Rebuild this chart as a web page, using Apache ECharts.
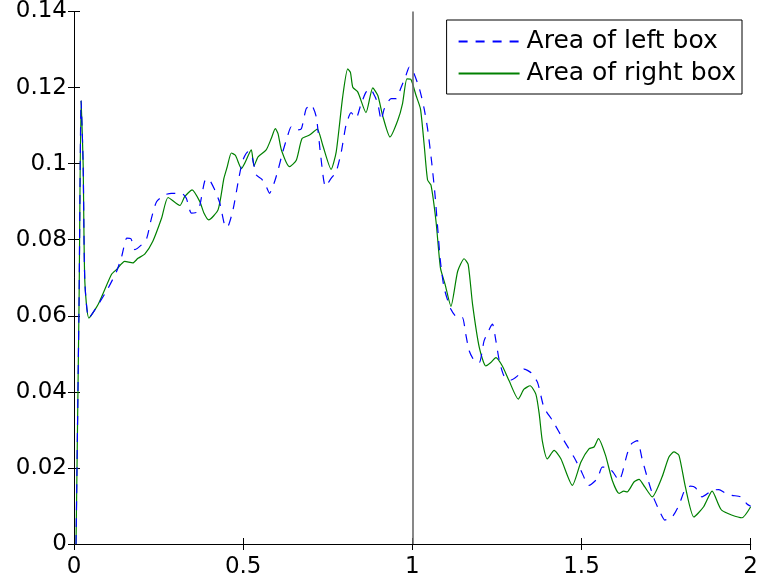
<!DOCTYPE html>
<html>
<head>
<meta charset="utf-8">
<script src="https://cdn.jsdelivr.net/npm/echarts@6/dist/echarts.min.js"></script>
<style>
  html, body { margin: 0; padding: 0; background: #fff; }
  #chart { width: 761px; height: 587px; }
</style>
</head>
<body>
<div id="chart"></div>
<script>
// values, [x, area]
var leftBox = [
  [0.006, 0], [0.015, 0.064], [0.021, 0.1165], [0.027, 0.100], [0.032, 0.069], [0.044, 0.0594],
  [0.072, 0.0630], [0.101, 0.0673], [0.126, 0.0717], [0.141, 0.0756], [0.156, 0.0804], [0.168, 0.0803],
  [0.180, 0.0774], [0.200, 0.0787], [0.215, 0.0804], [0.229, 0.0857], [0.244, 0.0900], [0.268, 0.0918],
  [0.288, 0.0922], [0.318, 0.0922], [0.332, 0.0909], [0.347, 0.0870], [0.367, 0.0874], [0.386, 0.0953],
  [0.396, 0.0961], [0.416, 0.0931], [0.431, 0.0896], [0.445, 0.0839], [0.453, 0.0833], [0.470, 0.0879],
  [0.487, 0.0961], [0.499, 0.1009], [0.514, 0.1031], [0.524, 0.1026], [0.539, 0.0970], [0.554, 0.0960],
  [0.566, 0.0944], [0.578, 0.0922], [0.593, 0.0953], [0.603, 0.0983], [0.617, 0.1031], [0.632, 0.1075],
  [0.642, 0.1097], [0.657, 0.1088], [0.672, 0.1092], [0.686, 0.1144], [0.701, 0.1155], [0.716, 0.1123],
  [0.729, 0.1022], [0.743, 0.0940], [0.760, 0.0961], [0.775, 0.0979], [0.790, 0.1031], [0.804, 0.1101],
  [0.819, 0.1134], [0.834, 0.1120], [0.847, 0.1153], [0.863, 0.1188], [0.876, 0.1197], [0.888, 0.1179],
  [0.898, 0.1158], [0.908, 0.1114], [0.917, 0.1144], [0.937, 0.1171], [0.952, 0.1171], [0.967, 0.1201],
  [0.981, 0.1232], [0.991, 0.1254], [1.001, 0.1245], [1.021, 0.1197], [1.035, 0.1144], [1.045, 0.1092],
  [1.057, 0.1005], [1.067, 0.0918], [1.075, 0.0830], [1.083, 0.0743], [1.094, 0.0673], [1.114, 0.0617],
  [1.134, 0.0595], [1.148, 0.0595], [1.158, 0.0551], [1.168, 0.0508], [1.183, 0.0482], [1.198, 0.0477],
  [1.212, 0.0534], [1.230, 0.0569], [1.237, 0.0578], [1.247, 0.0534], [1.257, 0.0482], [1.271, 0.0442],
  [1.291, 0.0431], [1.311, 0.0442], [1.330, 0.0460], [1.350, 0.0451], [1.370, 0.0425], [1.389, 0.0359],
  [1.414, 0.0325], [1.448, 0.0272], [1.478, 0.0228], [1.498, 0.0194], [1.522, 0.0154], [1.547, 0.0172],
  [1.561, 0.0202], [1.576, 0.0202], [1.593, 0.0189], [1.611, 0.0167], [1.620, 0.0185], [1.635, 0.0237],
  [1.648, 0.0264], [1.665, 0.0272], [1.679, 0.0224], [1.694, 0.0176], [1.714, 0.0120], [1.734, 0.0080],
  [1.746, 0.0063], [1.768, 0.0071], [1.788, 0.0102], [1.807, 0.0146], [1.822, 0.0152], [1.837, 0.0148],
  [1.856, 0.0124], [1.886, 0.0141], [1.906, 0.0143], [1.925, 0.0134], [1.945, 0.0128], [1.970, 0.0124],
  [1.989, 0.0105], [2.0, 0.0099]
];

var rightBox = [
  [0.006, 0], [0.015, 0.064], [0.021, 0.1165], [0.027, 0.100], [0.032, 0.069], [0.044, 0.0594],
  [0.072, 0.0631], [0.111, 0.0709], [0.126, 0.0722], [0.150, 0.0743], [0.174, 0.0739], [0.189, 0.0751],
  [0.209, 0.0762], [0.233, 0.0796], [0.259, 0.0857], [0.278, 0.0911], [0.313, 0.0890], [0.327, 0.0913],
  [0.349, 0.0931], [0.372, 0.0900], [0.384, 0.0870], [0.398, 0.0852], [0.426, 0.0879], [0.443, 0.0961],
  [0.453, 0.0992], [0.465, 0.1028], [0.477, 0.1022], [0.495, 0.0987], [0.504, 0.1000], [0.524, 0.1036],
  [0.532, 0.0994], [0.544, 0.1018], [0.568, 0.1036], [0.583, 0.1066], [0.595, 0.1092], [0.603, 0.1079],
  [0.613, 0.1036], [0.637, 0.0992], [0.657, 0.1009], [0.674, 0.1066], [0.696, 0.1075], [0.719, 0.1091],
  [0.735, 0.1049], [0.760, 0.0985], [0.775, 0.1031], [0.794, 0.1175], [0.809, 0.1249], [0.817, 0.1240],
  [0.824, 0.1201], [0.839, 0.1188], [0.863, 0.1134], [0.883, 0.1199], [0.898, 0.1179], [0.912, 0.1127],
  [0.934, 0.1070], [0.957, 0.1114], [0.971, 0.1158], [0.984, 0.1223], [0.996, 0.1221], [1.011, 0.1179],
  [1.024, 0.1144], [1.035, 0.1049], [1.045, 0.0957], [1.055, 0.0944], [1.070, 0.0848], [1.083, 0.0726],
  [1.097, 0.0682], [1.114, 0.0625], [1.134, 0.0717], [1.153, 0.0750], [1.165, 0.0735], [1.178, 0.0630],
  [1.198, 0.0516], [1.217, 0.0468], [1.232, 0.0477], [1.247, 0.0490], [1.266, 0.0468], [1.286, 0.0429],
  [1.313, 0.0381], [1.330, 0.0407], [1.348, 0.0416], [1.365, 0.0394], [1.375, 0.0342], [1.384, 0.0272],
  [1.399, 0.0224], [1.419, 0.0246], [1.439, 0.0224], [1.473, 0.0154], [1.498, 0.0215], [1.522, 0.0250],
  [1.537, 0.0255], [1.550, 0.0277], [1.571, 0.0233], [1.591, 0.0167], [1.611, 0.0133], [1.625, 0.0139],
  [1.635, 0.0137], [1.655, 0.0163], [1.670, 0.0170], [1.687, 0.0150], [1.709, 0.0124], [1.738, 0.0176],
  [1.758, 0.0228], [1.773, 0.0242], [1.788, 0.0233], [1.807, 0.0150], [1.832, 0.0071], [1.861, 0.0098],
  [1.886, 0.0139], [1.914, 0.0089], [1.974, 0.0069], [2.0, 0.0098]
];

var divider = 1;   // vertical line between the boxes

var myChart = echarts.init(document.getElementById('chart'));

var tickStyle = { inside: true, length: 6, lineStyle: { color: '#000' } };
var lineAxis = { lineStyle: { color: '#000', width: 1 } };
var font = 'DejaVu Sans, sans-serif';

myChart.setOption({
  animation: false,
  grid: { left: 74, right: 10, top: 9, bottom: 43 },
  xAxis: [
    {
      type: 'value', min: 0, max: 2, interval: 0.5,
      axisLine: lineAxis, axisTick: tickStyle, splitLine: { show: false },
      axisLabel: { color: '#000', fontSize: 23, fontFamily: font, margin: 12 }
    },
    {
      type: 'value', position: 'top', min: 0, max: 2, interval: 0.5,
      axisLine: lineAxis, axisTick: tickStyle, splitLine: { show: false },
      axisLabel: { show: false }
    }
  ],
  yAxis: [
    {
      type: 'value', min: 0, max: 0.14, interval: 0.02,
      axisLine: lineAxis, axisTick: tickStyle, splitLine: { show: false },
      axisLabel: { color: '#000', fontSize: 23, fontFamily: font, margin: 7 }
    },
    {
      type: 'value', position: 'right', min: 0, max: 0.14, interval: 0.02,
      axisLine: lineAxis, axisTick: tickStyle, splitLine: { show: false },
      axisLabel: { show: false }
    }
  ],
  legend: {
    orient: 'vertical',
    right: 19,
    top: 20,
    itemWidth: 61,
    itemHeight: 14,
    itemGap: 7,
    padding: [9, 6, 8, 11],
    borderColor: '#000',
    borderWidth: 1,
    backgroundColor: '#fff',
    itemStyle: { opacity: 0 },
    textStyle: { color: '#000', fontSize: 25, fontFamily: font, padding: [0, 0, 0, 2] },
    data: ['Area of left box', 'Area of right box']
  },
  series: [
    {
      name: 'Area of left box',
      type: 'line',
      data: leftBox,
      symbol: 'none',
      smooth: 0.2,
      lineStyle: { color: '#0000ff', width: 1.2, type: [9, 8] },
      itemStyle: { color: '#0000ff' },
      z: 3
    },
    {
      name: 'Area of right box',
      type: 'line',
      data: rightBox,
      symbol: 'none',
      smooth: 0.2,
      lineStyle: { color: '#008000', width: 1.2 },
      itemStyle: { color: '#008000' },
      z: 2,
      markLine: {
        silent: true,
        symbol: 'none',
        label: { show: false },
        lineStyle: { color: '#6a6a6a', width: 1.6, type: 'solid' },
        data: [{ xAxis: divider }]
      }
    }
  ]
});

window.addEventListener('resize', function () {
  myChart.resize();
});
</script>
</body>
</html>
